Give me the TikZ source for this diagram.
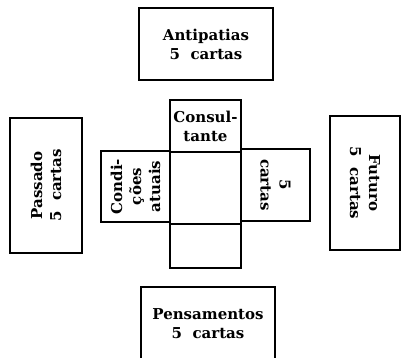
\documentclass[tikz,border=0pt]{standalone}
\usepackage{fontspec}
\setmainfont{DejaVu Serif}
\usepackage{tikz}
\usetikzlibrary{positioning}
\tikzset{card/.style={draw,line width=2.6pt,inner sep=0pt,align=center,
  font=\bfseries\fontsize{15}{19}\selectfont}}

\begin{document}
\begin{tikzpicture}[x=1pt,y=-1pt,line cap=round]
  \useasboundingbox (0,0) rectangle (401,358);

  % outer cards
  \node [card,minimum width=134pt,minimum height=72pt] (antip) at (206,44) {Antipatias\\5~ cartas};
  \node [card,minimum width=134pt,minimum height=73pt] (pens) at (208,323.5) {Pensamentos\\5~ cartas};
  \node [card,rotate=90,minimum width=135pt,minimum height=72pt] (pass) at (46,185.5) {Passado\\5~ cartas};
  \node [card,rotate=-90,minimum width=134pt,minimum height=70pt] (fut) at (365,183) {Futuro\\5~ cartas};

  % the cross
  \node [card,minimum width=71pt,minimum height=52pt] (consul) at (205.5,126) {Consul-\\tante};
  \node [card,minimum width=71pt,minimum height=72pt] (centro) at (205.5,188) {};
  \node [card,minimum width=71pt,minimum height=44pt] (baixo) at (205.5,246) {};
  \node [card,rotate=90,minimum width=71pt,minimum height=69pt] (cond) at (135.5,186.5) {Condi-\\ções\\atuais};
  \node [card,rotate=-90,minimum width=72pt,minimum height=69pt] (cinco) at (275.5,185) {5\\cartas};

\end{tikzpicture}
\end{document}
